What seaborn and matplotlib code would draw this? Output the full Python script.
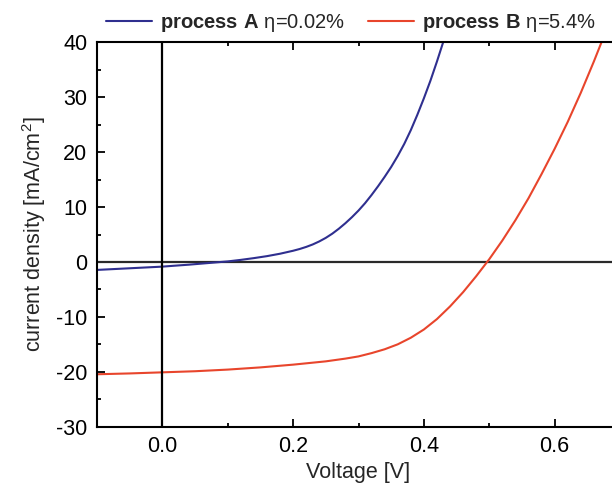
import pandas as pd
import seaborn as sns
import matplotlib.pyplot as plt
from matplotlib.ticker import MultipleLocator, FormatStrFormatter

# J-V curves (voltage in V, current density in mA/cm2)
volt_a = [-0.10, -0.05, 0.00, 0.02, 0.04, 0.06, 0.08, 0.09, 0.10, 0.12, 0.14,
          0.16, 0.18, 0.20, 0.21, 0.22, 0.23, 0.24, 0.25, 0.26, 0.27, 0.28,
          0.29, 0.30, 0.31, 0.32, 0.33, 0.34, 0.35, 0.36, 0.37, 0.38, 0.39,
          0.40, 0.41, 0.42, 0.43, 0.44]
curr_a = [-1.45, -1.15, -0.85, -0.67, -0.50, -0.30, -0.10, 0.0, 0.10, 0.38, 0.70,
          1.06, 1.50, 2.04, 2.36, 2.74, 3.19, 3.74, 4.39, 5.16, 6.06, 7.06,
          8.16, 9.36, 10.7, 12.2, 13.8, 15.5, 17.3, 19.3, 21.5, 24.0, 26.8,
          29.8, 33.0, 36.5, 40.2, 44.0]

volt_b = [-0.10, -0.05, 0.00, 0.05, 0.10, 0.15, 0.20, 0.25, 0.28, 0.30, 0.32,
          0.34, 0.36, 0.38, 0.40, 0.42, 0.44, 0.46, 0.48, 0.50, 0.52, 0.54,
          0.56, 0.58, 0.60, 0.62, 0.64, 0.66, 0.68]
curr_b = [-20.45, -20.3, -20.1, -19.9, -19.6, -19.2, -18.7, -18.1, -17.6, -17.2, -16.6,
          -15.9, -15.0, -13.8, -12.3, -10.4, -8.1, -5.5, -2.6, 0.5, 3.9, 7.6,
          11.6, 16.0, 20.6, 25.5, 30.8, 36.5, 42.5]

labels = [r"$\mathbf{process\ A}$ η=0.02%", r"$\mathbf{process\ B}$ η=5.4%"]
colors = ["#2f2f8f", "#e8452c"]

df = pd.concat([
    pd.DataFrame({"V": volt_a, "J": curr_a, "process": labels[0]}),
    pd.DataFrame({"V": volt_b, "J": curr_b, "process": labels[1]}),
])

sns.set_style("ticks")
plt.rcParams['font.family'] = ['Liberation Sans', 'DejaVu Sans']
plt.rcParams['mathtext.fontset'] = 'custom'
plt.rcParams['mathtext.rm'] = 'Liberation Sans'
plt.rcParams['mathtext.bf'] = 'Liberation Sans:bold'
plt.rcParams['axes.unicode_minus'] = False

fig = plt.figure(figsize=(6.12, 4.91), dpi=100)
ax = fig.add_axes([97 / 612, 64.3 / 491, 523 / 612, 384.4 / 491])

ax.axhline(0, color="#2a2a2a", lw=1.6, zorder=1)
ax.axvline(0, color="black", lw=1.6, zorder=3)

sns.lineplot(data=df, x="V", y="J", hue="process", palette=colors,
             sort=False, estimator=None, lw=1.5, ax=ax, zorder=2)

ax.set_xlim(-0.1, 0.7)
ax.set_ylim(-30, 40)
ax.xaxis.set_major_locator(MultipleLocator(0.2))
ax.xaxis.set_minor_locator(MultipleLocator(0.1))
ax.xaxis.set_major_formatter(FormatStrFormatter('%.1f'))
ax.yaxis.set_major_locator(MultipleLocator(10))
ax.yaxis.set_minor_locator(MultipleLocator(5))
ax.tick_params(which='both', direction='in', top=True, right=True,
               width=1.3, labelsize=15.5, colors='black')
ax.tick_params(which='major', length=6, pad=7)
ax.tick_params(which='minor', length=3)
for sp in ax.spines.values():
    sp.set_linewidth(1.5)
    sp.set_color('black')

ax.set_xlabel("Voltage [V]", fontsize=15.5, labelpad=3)
ax.set_ylabel("current density [mA/cm$^2$]", fontsize=15.5, labelpad=6)

ax.legend(loc='center', bbox_to_anchor=(351 / 612, 1 - 23 / 491),
          bbox_transform=fig.transFigure, ncol=2, frameon=False,
          fontsize=14.5, handlelength=2.3, handletextpad=0.4,
          columnspacing=1.1, borderpad=0, borderaxespad=0)

plt.savefig("out.png", dpi=100)
